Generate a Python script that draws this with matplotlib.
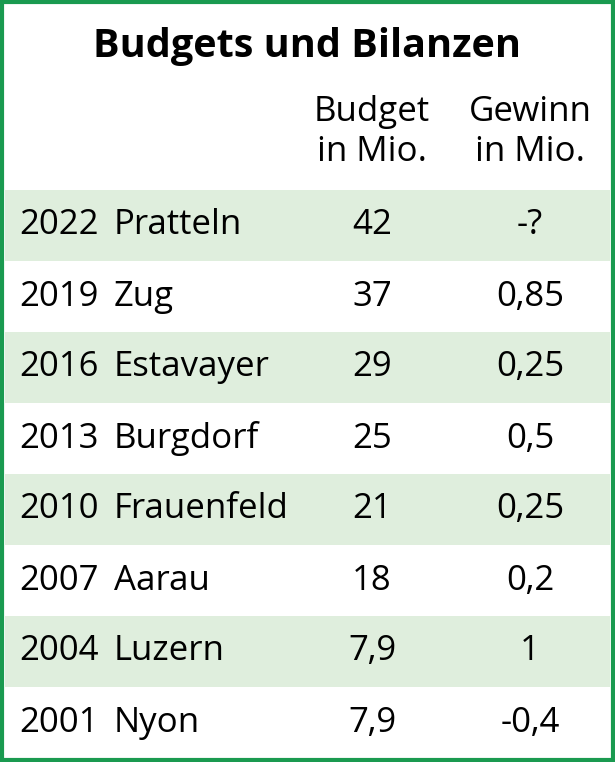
import matplotlib.pyplot as plt
from matplotlib.patches import Rectangle

title = "Budgets und Bilanzen"
headers = ["Budget\nin Mio.", "Gewinn\nin Mio."]
years = ["2022", "2019", "2016", "2013", "2010", "2007", "2004", "2001"]
places = ["Pratteln", "Zug", "Estavayer", "Burgdorf", "Frauenfeld", "Aarau", "Luzern", "Nyon"]
budgets = ["42", "37", "29", "25", "21", "18", "7,9", "7,9"]
gains = ["-?", "0,85", "0,25", "0,5", "0,25", "0,2", "1", "-0,4"]

green = "#1a9a50"
stripe = "#dfeedd"
font = "Open Sans"
fs = 25

fig = plt.figure(figsize=(6.15, 7.62), dpi=100)
ax = fig.add_axes([0, 0, 1, 1])
ax.set_xlim(0, 615)
ax.set_ylim(762, 0)
ax.axis("off")

# border
ax.add_patch(Rectangle((2, 2), 611, 758, fill=False, edgecolor=green, linewidth=3))

ax.text(307, 47, title, ha="center", va="center", fontsize=28.5, fontweight="bold", family=font)
for x, h in zip([372, 530], headers):
    ax.text(x, 132, h, ha="center", va="center", fontsize=fs, family=font, linespacing=1.2)

top, rh = 190, 71
for i in range(len(years)):
    y0 = top + i * rh
    if i % 2 == 0:
        ax.add_patch(Rectangle((5, y0), 605, rh, color=stripe, linewidth=0))
    yc = y0 + rh / 2
    ax.text(19, yc, years[i], ha="left", va="center", fontsize=fs, family=font)
    ax.text(114, yc, places[i], ha="left", va="center", fontsize=fs, family=font)
    ax.text(372, yc, budgets[i], ha="center", va="center", fontsize=fs, family=font)
    ax.text(530, yc, gains[i], ha="center", va="center", fontsize=fs, family=font)

fig.savefig("out.png", dpi=100)
